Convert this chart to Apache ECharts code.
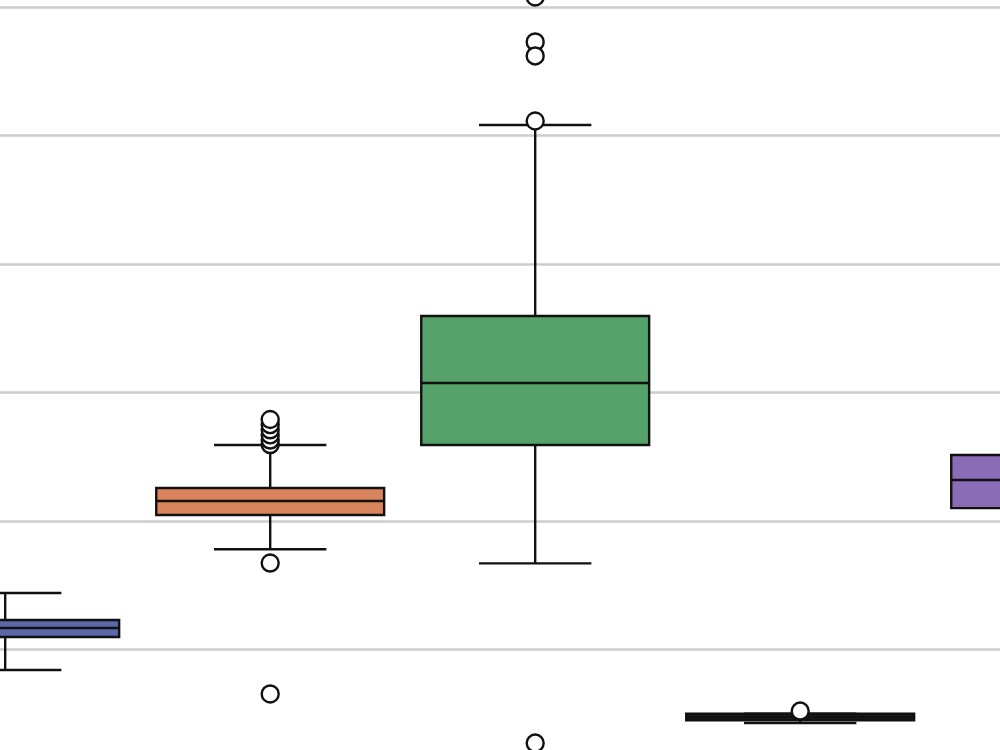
<!DOCTYPE html>
<html>
<head>
<meta charset="utf-8">
<script src="https://cdn.jsdelivr.net/npm/echarts@6/dist/echarts.min.js"></script>
<style>html,body{margin:0;padding:0;background:#fff;}#c{width:1000px;height:750px;}</style>
</head>
<body>
<div id="c"></div>
<script>
// Data (units are relative to the grid lines)
const categories = ['A', 'B', 'C', 'D', 'E'];
const lowWhisker = [8.4, 17.8, 16.7, 4.28, 18.5];
const q1Values   = [10.97, 20.47, 25.91, 4.5, 21.0];
const medians    = [11.67, 21.56, 30.74, 4.75, 23.19];
const q3Values   = [12.3, 22.57, 35.95, 5.0, 25.14];
const highWhisker= [14.4, 25.91, 50.82, 5.0, 28.0];
const boxColors  = ['#5a67a8', '#d9845c', '#55a36a', '#1a1a1a', '#8a6bb6'];
// outliers: [category index, value]
const outliers = [
  [1, 16.73], [1, 6.54], [1, 25.95], [1, 26.3], [1, 26.7], [1, 27.1], [1, 27.5], [1, 27.9],
  [2, 60.78], [2, 57.28], [2, 56.19], [2, 51.13], [2, 2.72],
  [3, 5.21]
];

const boxData = categories.map((c, i) => [i, lowWhisker[i], q1Values[i], medians[i], q3Values[i], highWhisker[i]]);

const chart = echarts.init(document.getElementById('c'), null, {renderer: 'canvas'});
const stroke = '#111111';
chart.setOption({
  animation: false,
  backgroundColor: '#ffffff',
  grid: {left: 0, right: 0, top: 0, bottom: 0, containLabel: false},
  xAxis: {
    type: 'value', min: -0.0196, max: 3.754,
    axisLine: {show: false}, axisTick: {show: false}, axisLabel: {show: false}, splitLine: {show: false}
  },
  yAxis: {
    type: 'value', min: 2.18, max: 60.545,
    axisLine: {show: false}, axisTick: {show: false}, axisLabel: {show: false},
    splitLine: {show: true, showMinLine: false, showMaxLine: false, lineStyle: {color: '#cccccc', width: 2.5}}
  },
  series: [
    {
      type: 'custom',
      data: boxData,
      clip: false,
      renderItem: function (params, api) {
        const x = api.value(0);
        const bw = api.size([1, 0])[0];
        const half = bw * 0.43;
        const capHalf = bw * 0.212;
        const pLow = api.coord([x, api.value(1)]);
        const pQ1 = api.coord([x, api.value(2)]);
        const pMed = api.coord([x, api.value(3)]);
        const pQ3 = api.coord([x, api.value(4)]);
        const pHigh = api.coord([x, api.value(5)]);
        const cx = pMed[0];
        const ls = {stroke: stroke, lineWidth: 2.4, fill: null};
        return {
          type: 'group',
          children: [
            {type: 'line', shape: {x1: cx, y1: pQ3[1], x2: cx, y2: pHigh[1]}, style: ls},
            {type: 'line', shape: {x1: cx, y1: pQ1[1], x2: cx, y2: pLow[1]}, style: ls},
            {type: 'line', shape: {x1: cx - capHalf, y1: pHigh[1], x2: cx + capHalf, y2: pHigh[1]}, style: ls},
            {type: 'line', shape: {x1: cx - capHalf, y1: pLow[1], x2: cx + capHalf, y2: pLow[1]}, style: ls},
            {type: 'rect', shape: {x: cx - half, y: pQ3[1], width: half * 2, height: pQ1[1] - pQ3[1]},
              style: {fill: boxColors[params.dataIndex], stroke: stroke, lineWidth: 2.4}},
            {type: 'line', shape: {x1: cx - half, y1: pMed[1], x2: cx + half, y2: pMed[1]}, style: ls}
          ]
        };
      }
    },
    {
      type: 'scatter',
      data: outliers,
      symbol: 'circle',
      symbolSize: 17,
      clip: false,
      itemStyle: {color: '#ffffff', borderColor: stroke, borderWidth: 2.4, opacity: 1}
    }
  ]
});
</script>
</body>
</html>
